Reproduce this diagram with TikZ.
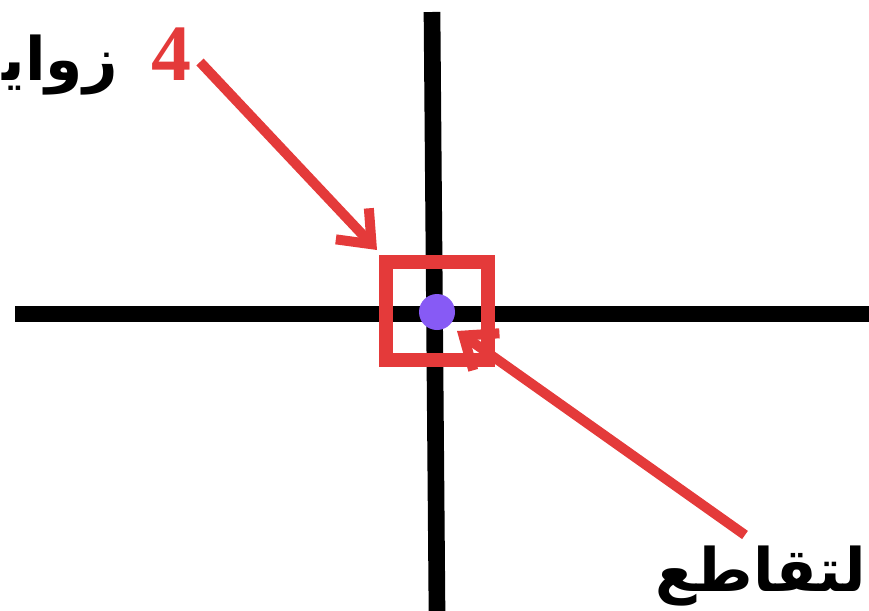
\documentclass[tikz,border=0pt]{standalone}
\usepackage{fontspec}
\newfontfamily\arabicfont[Script=Arabic]{DejaVu Sans}
\newfontfamily\digitfont{Liberation Serif Bold}
\TeXXeTstate=1
\usepackage{tikz}
\usetikzlibrary{arrows.meta}

\definecolor{markred}{RGB}{228,58,58}
\definecolor{dotviolet}{RGB}{135,90,245}

\tikzset{
  axisline/.style={line width=12.5pt, draw=black},
  pointer/.style={draw=markred, line width=7.5pt, -{Straight Barb[length=21pt,width=34pt]}},
  arabtxt/.style={inner sep=0pt, font=\arabicfont\bfseries\fontsize{45}{50}\selectfont}
}

\begin{document}
\begin{tikzpicture}[x=0.75pt,y=-0.75pt]
  \useasboundingbox (0,0) rectangle (869,611);

  % axes
  \draw[axisline] (432,12) -- (437,611);
  \draw[axisline] (15,314) -- (869,314);

  % corner box and intersection point
  \node[draw=markred, line width=11pt, inner sep=0pt,
        minimum width=76.5pt, minimum height=73.5pt] (box) at (437,311) {};
  \node[circle, fill=dotviolet, inner sep=0pt, minimum size=27pt] (crossdot) at (437,312) {};

  % labels
  \node[text=markred, inner sep=0pt, font=\digitfont\fontsize{60}{62}\selectfont] (num) at (171,54) {4};
  \node[arabtxt, anchor=east] (zawaya) at (118,65) {\beginR زواي^^^^200d\endR};
  \node[arabtxt, anchor=east] (taqatu) at (866,576) {\beginR لتقاطع\endR};

  % pointers
  \coordinate (tailA) at (200,62);
  \coordinate (tipA) at (377,250);
  \coordinate (tailB) at (745,535);
  \coordinate (tipB) at (457,331);
  \draw[pointer] (tailA) -- (tipA);
  \draw[pointer] (tailB) -- (tipB);
\end{tikzpicture}
\end{document}
